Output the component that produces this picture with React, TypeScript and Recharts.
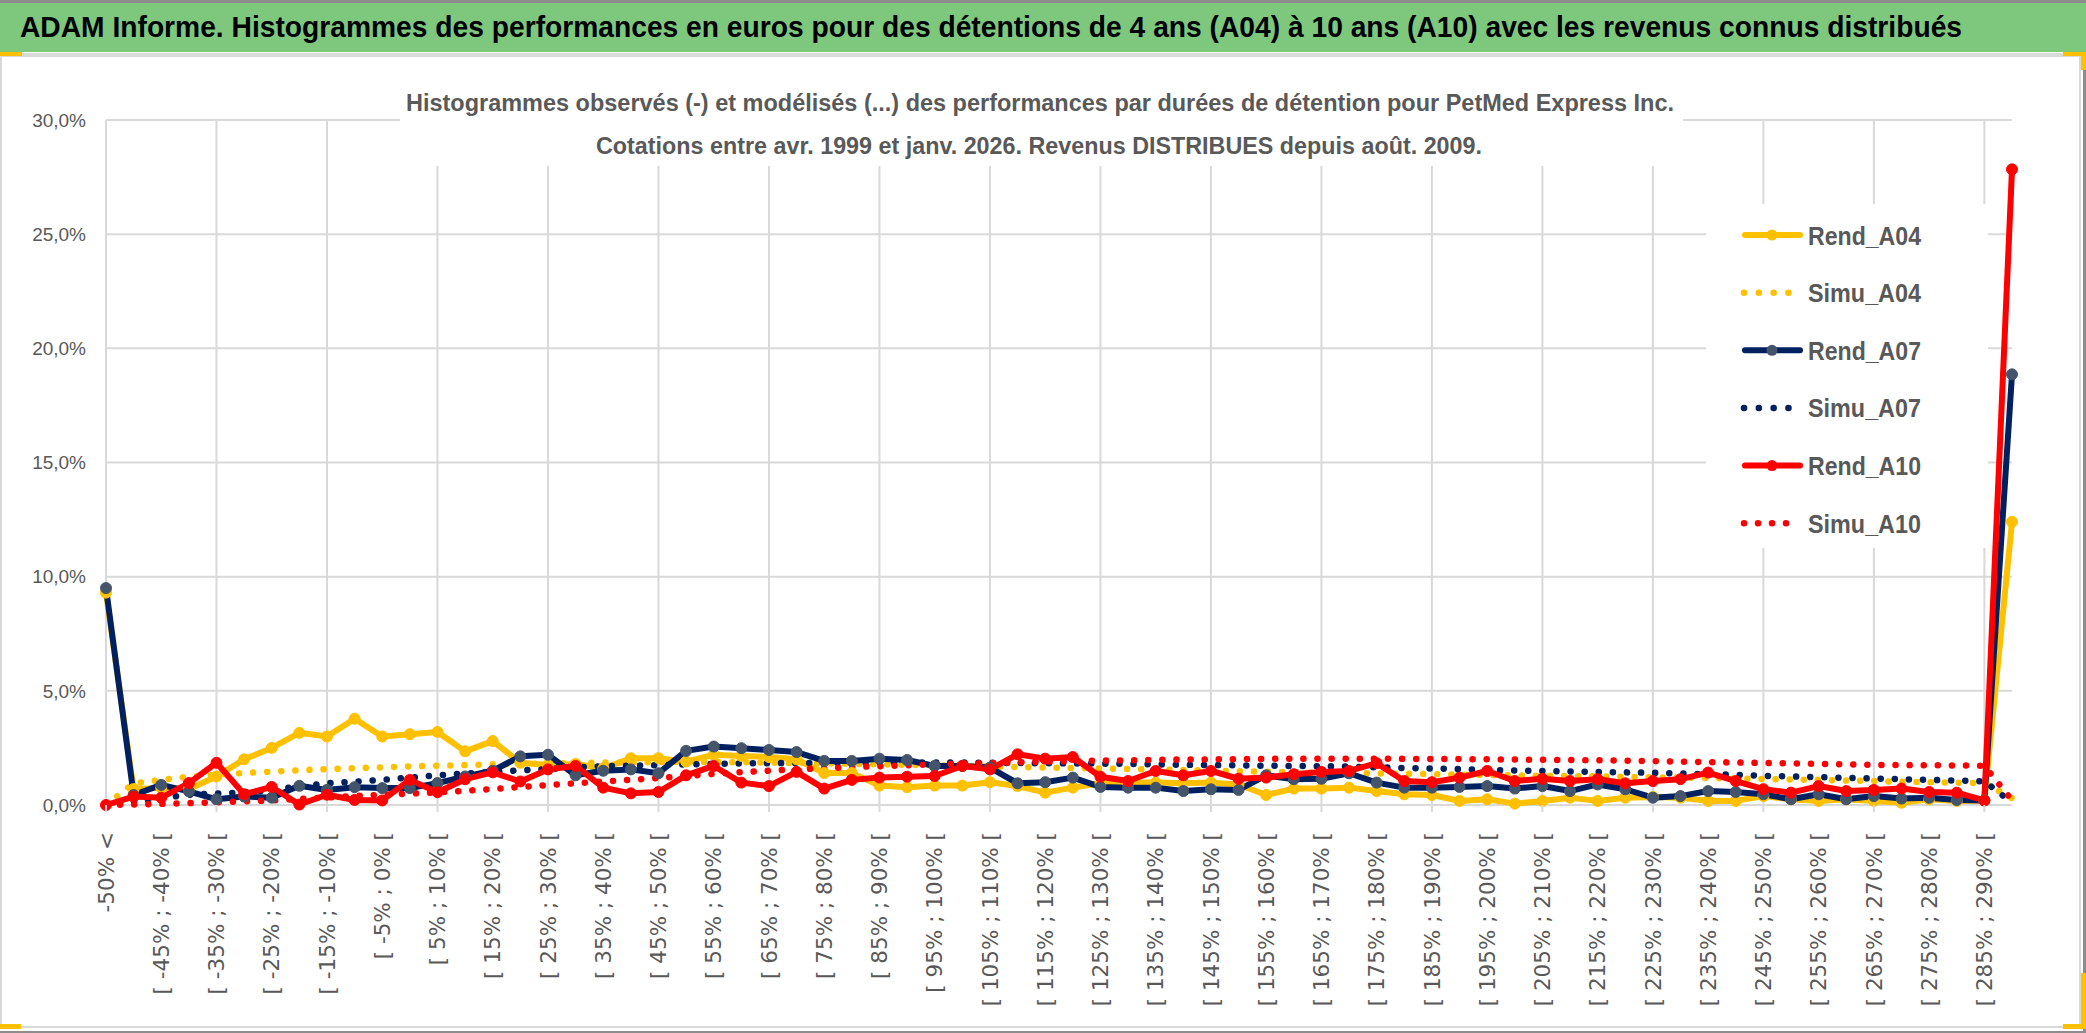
import React from "react";
import { CartesianGrid, Legend, Line, LineChart, ReferenceLine, XAxis, YAxis } from "recharts";

// classes de performance (axe des catégories)
const categories: string[] = [
  "-50% <",
  "[ -50% ; -45% [", "[ -45% ; -40% [", "[ -40% ; -35% [", "[ -35% ; -30% [", "[ -30% ; -25% [",
  "[ -25% ; -20% [", "[ -20% ; -15% [", "[ -15% ; -10% [", "[ -10% ; -5% [", "[ -5% ; 0% [",
  "[ 0% ; 5% [", "[ 5% ; 10% [", "[ 10% ; 15% [", "[ 15% ; 20% [", "[ 20% ; 25% [",
  "[ 25% ; 30% [", "[ 30% ; 35% [", "[ 35% ; 40% [", "[ 40% ; 45% [", "[ 45% ; 50% [",
  "[ 50% ; 55% [", "[ 55% ; 60% [", "[ 60% ; 65% [", "[ 65% ; 70% [", "[ 70% ; 75% [",
  "[ 75% ; 80% [", "[ 80% ; 85% [", "[ 85% ; 90% [", "[ 90% ; 95% [", "[ 95% ; 100% [",
  "[ 100% ; 105% [", "[ 105% ; 110% [", "[ 110% ; 115% [", "[ 115% ; 120% [", "[ 120% ; 125% [",
  "[ 125% ; 130% [", "[ 130% ; 135% [", "[ 135% ; 140% [", "[ 140% ; 145% [", "[ 145% ; 150% [",
  "[ 150% ; 155% [", "[ 155% ; 160% [", "[ 160% ; 165% [", "[ 165% ; 170% [", "[ 170% ; 175% [",
  "[ 175% ; 180% [", "[ 180% ; 185% [", "[ 185% ; 190% [", "[ 190% ; 195% [", "[ 195% ; 200% [",
  "[ 200% ; 205% [", "[ 205% ; 210% [", "[ 210% ; 215% [", "[ 215% ; 220% [", "[ 220% ; 225% [",
  "[ 225% ; 230% [", "[ 230% ; 235% [", "[ 235% ; 240% [", "[ 240% ; 245% [", "[ 245% ; 250% [",
  "[ 250% ; 255% [", "[ 255% ; 260% [", "[ 260% ; 265% [", "[ 265% ; 270% [", "[ 270% ; 275% [",
  "[ 275% ; 280% [", "[ 280% ; 285% [", "[ 285% ; 290% [",
  "> 290%",
];

// fréquences observées (%)
const rendA04 = [
  9.3, 0.7, 0.75, 0.7, 1.25, 2.0, 2.5, 3.16, 3.0, 3.78, 3.0, 3.1, 3.2, 2.35, 2.8, 1.85, 1.75, 1.8, 1.6, 2.05,
  2.05, 1.9, 2.2, 2.15, 2.1, 2.0, 1.4, 1.4, 0.85, 0.78, 0.85, 0.85, 1.0, 0.83, 0.54, 0.76, 0.95, 0.98, 0.98, 0.95,
  0.98, 0.9, 0.44, 0.72, 0.72, 0.76, 0.61, 0.47, 0.44, 0.18, 0.25, 0.06, 0.18, 0.32, 0.18, 0.32, 0.35, 0.32, 0.18, 0.18,
  0.39, 0.25, 0.18, 0.25, 0.18, 0.1, 0.25, 0.18, 0.2, 12.4,
];
const rendA07 = [
  9.5, 0.44, 0.88, 0.6, 0.25, 0.37, 0.32, 0.84, 0.66, 0.78, 0.74, 0.74, 0.96, 1.25, 1.5, 2.13, 2.2, 1.3, 1.5, 1.56,
  1.39, 2.37, 2.56, 2.49, 2.41, 2.32, 1.93, 1.93, 2.03, 1.97, 1.71, 1.71, 1.64, 0.95, 1.0, 1.2, 0.79, 0.76, 0.76, 0.61,
  0.69, 0.66, 1.3, 1.13, 1.15, 1.39, 0.98, 0.76, 0.76, 0.79, 0.83, 0.72, 0.83, 0.61, 0.9, 0.69, 0.32, 0.39, 0.61, 0.57,
  0.47, 0.25, 0.47, 0.25, 0.39, 0.28, 0.32, 0.22, 0.2, 18.86,
];
const rendA10 = [
  0, 0.37, 0.32, 0.96, 1.85, 0.47, 0.79, 0.02, 0.45, 0.22, 0.2, 1.1, 0.56, 1.13, 1.43, 1.03, 1.56, 1.71, 0.76, 0.51,
  0.57, 1.3, 1.71, 0.98, 0.83, 1.45, 0.72, 1.1, 1.2, 1.24, 1.27, 1.71, 1.56, 2.22, 2.03, 2.1, 1.24, 1.05, 1.49, 1.3,
  1.49, 1.15, 1.2, 1.35, 1.45, 1.49, 1.83, 1.05, 1.0, 1.2, 1.49, 1.05, 1.15, 1.05, 1.13, 0.95, 1.05, 1.13, 1.42, 1.05,
  0.69, 0.54, 0.83, 0.61, 0.66, 0.72, 0.57, 0.54, 0.2, 27.84,
];

// fréquences modélisées (%)
const simuA04 = [
  0.0, 0.95, 1.1, 1.24, 1.32, 1.4, 1.46, 1.52, 1.57, 1.61, 1.65, 1.69, 1.72, 1.75, 1.78, 1.8, 1.82, 1.84, 1.86, 1.87,
  1.88, 1.88, 1.88, 1.87, 1.86, 1.84, 1.82, 1.8, 1.78, 1.76, 1.74, 1.71, 1.69, 1.66, 1.64, 1.62, 1.6, 1.58, 1.56, 1.53,
  1.51, 1.48, 1.46, 1.44, 1.42, 1.4, 1.38, 1.37, 1.35, 1.33, 1.31, 1.3, 1.28, 1.27, 1.25, 1.23, 1.21, 1.2, 1.18, 1.16,
  1.14, 1.12, 1.1, 1.07, 1.05, 1.02, 1.0, 0.98, 0.96, 0.3,
];
const simuA07 = [
  0.0, 0.15, 0.3, 0.45, 0.5, 0.55, 0.65, 0.82, 0.95, 1.02, 1.1, 1.2, 1.3, 1.38, 1.45, 1.52, 1.57, 1.65, 1.7, 1.72,
  1.75, 1.78, 1.8, 1.82, 1.83, 1.84, 1.85, 1.85, 1.86, 1.86, 1.86, 1.86, 1.85, 1.84, 1.83, 1.82, 1.81, 1.8, 1.78, 1.76,
  1.75, 1.74, 1.72, 1.71, 1.7, 1.68, 1.65, 1.62, 1.6, 1.57, 1.54, 1.51, 1.49, 1.47, 1.45, 1.43, 1.41, 1.38, 1.35, 1.32,
  1.28, 1.25, 1.22, 1.19, 1.16, 1.13, 1.1, 1.07, 1.04, 0.1,
];
const simuA10 = [
  0.0, 0.02, 0.05, 0.08, 0.12, 0.16, 0.2, 0.27, 0.33, 0.39, 0.45, 0.5, 0.55, 0.62, 0.7, 0.79, 0.87, 0.95, 1.03, 1.1,
  1.18, 1.27, 1.36, 1.44, 1.5, 1.56, 1.61, 1.66, 1.7, 1.74, 1.78, 1.81, 1.84, 1.87, 1.9, 1.92, 1.94, 1.96, 1.98, 1.99,
  2.0, 2.01, 2.02, 2.03, 2.03, 2.03, 2.03, 2.02, 2.02, 2.01, 2.0, 1.99, 1.98, 1.97, 1.96, 1.94, 1.92, 1.9, 1.88, 1.86,
  1.84, 1.82, 1.8, 1.78, 1.76, 1.75, 1.74, 1.73, 1.72, 0.2,
];

const yTicks = [0, 5, 10, 15, 20, 25, 30];

const TITLE =
  "ADAM Informe. Histogrammes des performances en euros pour des détentions de 4 ans (A04) à 10 ans (A10) avec les revenus connus distribués";
const SUBTITLE_1 =
  "Histogrammes observés (-) et modélisés (...) des performances par durées de détention pour PetMed Express Inc.";
const SUBTITLE_2 = "Cotations entre avr. 1999 et janv. 2026. Revenus DISTRIBUES depuis août. 2009.";

const rows = categories.map((cat, i) => ({
  cat,
  rendA04: rendA04[i],
  simuA04: simuA04[i],
  rendA07: rendA07[i],
  simuA07: simuA07[i],
  rendA10: rendA10[i],
  simuA10: simuA10[i],
}));

// quadrillage vertical : une catégorie sur quatre
const gridCats = categories.filter((_, i) => i % 4 === 0);

type Serie = {
  key: string;
  name: string;
  color: string;
  marker?: string;
  dotted: boolean;
  sampleEnd?: number;
  gap?: number;
};

const series: Serie[] = [
  { key: "rendA04", name: "Rend_A04", color: "#FFC000", marker: "#FFC000", dotted: false },
  { key: "simuA04", name: "Simu_A04", color: "#FFC000", dotted: true, sampleEnd: 83, gap: 14.7 },
  { key: "rendA07", name: "Rend_A07", color: "#002060", marker: "#44546A", dotted: false },
  { key: "simuA07", name: "Simu_A07", color: "#002060", dotted: true, sampleEnd: 83, gap: 14.7 },
  { key: "rendA10", name: "Rend_A10", color: "#FF0000", marker: "#FF0000", dotted: false },
  { key: "simuA10", name: "Simu_A10", color: "#FF0000", dotted: true, sampleEnd: 93, gap: 13.9 },
];

const FONT = "'Liberation Sans', Arial, sans-serif";
const GREY_TEXT = "#595959";
const GRID = "#d9d9d9";

const pct = (v: number) => `${v.toFixed(1).replace(".", ",")}%`;

function XTick(props: any) {
  const { x, y, payload } = props;
  const idx = categories.indexOf(payload.value);
  return (
    <g transform={`translate(${x},${y})`}>
      {idx % 4 === 0 && <line x1={0} x2={0} y1={-27} y2={-20} stroke={GRID} strokeWidth={2} />}
      <text
        transform="rotate(-90)"
        x={0}
        y={0}
        dy="0.36em"
        textAnchor="end"
        fill={GREY_TEXT}
        fontSize={21.5}
        fontFamily="'DejaVu Sans', sans-serif"
      >
        {payload.value}
      </text>
    </g>
  );
}

function LegendBox() {
  return (
    <svg width={282} height={344} style={{ display: "block", background: "#fff" }}>
      {series.map((s, i) => {
        const cy = 31 + i * 57.65;
        return (
          <g key={s.key}>
            {s.dotted ? (
              <line
                x1={38}
                x2={s.sampleEnd}
                y1={cy}
                y2={cy}
                stroke={s.color}
                strokeWidth={6.5}
                strokeLinecap="round"
                strokeDasharray={`0.1 ${s.gap}`}
              />
            ) : (
              <>
                <line x1={39} x2={94} y1={cy} y2={cy} stroke={s.color} strokeWidth={6} strokeLinecap="round" />
                <circle cx={66} cy={cy} r={5.5} fill={s.marker} />
              </>
            )}
            <text
              x={102}
              y={cy + 9.5}
              fontSize={26}
              fontWeight="bold"
              fill={GREY_TEXT}
              fontFamily={FONT}
              textLength={113}
              lengthAdjust="spacingAndGlyphs"
            >
              {s.name}
            </text>
          </g>
        );
      })}
    </svg>
  );
}

export default function App() {
  return (
    <div
      style={{
        position: "absolute",
        left: 0,
        top: 0,
        width: 2086,
        height: 1033,
        background: "#fff",
        overflow: "hidden",
        fontFamily: FONT,
      }}
    >
      {/* cadre du graphique */}
      <div
        style={{
          position: "absolute",
          left: 0,
          top: 55,
          width: 2081,
          height: 973,
          boxSizing: "border-box",
          border: `2px solid ${GRID}`,
          borderTop: "none",
        }}
      />
      <div style={{ position: "absolute", left: 0, top: 0 }}>
        <LineChart
          width={2086}
          height={1033}
          data={rows}
          margin={{ top: 120, right: 74, bottom: 13, left: 0 }}
        >
          <CartesianGrid vertical={false} stroke={GRID} strokeWidth={2} syncWithTicks />
          <XAxis
            dataKey="cat"
            interval={1}
            height={215}
            axisLine={false}
            tickLine={false}
            tickSize={8}
            tickMargin={19}
            tick={<XTick />}
          />
          <YAxis
            domain={[0, 30]}
            ticks={yTicks}
            width={106}
            axisLine={false}
            tickLine={false}
            tickSize={12}
            tickMargin={8}
            tickFormatter={pct}
            tick={{ fill: GREY_TEXT, fontSize: 19, fontFamily: FONT }}
          />
          {gridCats.map((c) => (
            <ReferenceLine key={c} x={c} stroke={GRID} strokeWidth={2} />
          ))}
          {series.map((s) =>
            s.dotted ? (
              <Line
                key={s.key}
                dataKey={s.key}
                name={s.name}
                stroke={s.color}
                strokeWidth={6.5}
                strokeLinecap="round"
                strokeDasharray="0.1 14"
                dot={false}
                activeDot={false}
                isAnimationActive={false}
              />
            ) : (
              <Line
                key={s.key}
                dataKey={s.key}
                name={s.name}
                stroke={s.color}
                strokeWidth={6}
                strokeLinejoin="round"
                dot={{ r: 5.5, fill: s.marker, stroke: s.marker, strokeWidth: 1 }}
                activeDot={false}
                isAnimationActive={false}
              />
            )
          )}
          <Legend
            layout="vertical"
            align="center"
            verticalAlign="middle"
            wrapperStyle={{ left: 1706, top: 204, width: 282, height: 344 }}
            content={() => <LegendBox />}
          />
        </LineChart>
      </div>

      {/* bandeau titre, titre du graphique, poignées */}
      <svg
        width={2086}
        height={1033}
        style={{ position: "absolute", left: 0, top: 0, pointerEvents: "none" }}
      >
        <rect x={0} y={0} width={2086} height={3} fill="#8c8c8c" />
        <rect x={0} y={3} width={2086} height={49} fill="#7EC87E" />
        <rect x={0} y={53} width={2086} height={4} fill={GRID} />
        <text
          x={20}
          y={37}
          fontSize={29}
          fontWeight="bold"
          fill="#000"
          fontFamily={FONT}
          textLength={1942}
          lengthAdjust="spacingAndGlyphs"
        >
          {TITLE}
        </text>

        <rect x={400} y={80} width={1283} height={86} fill="#fff" />
        <text
          x={406}
          y={111}
          fontSize={23}
          fontWeight="bold"
          fill={GREY_TEXT}
          fontFamily={FONT}
          textLength={1268}
          lengthAdjust="spacingAndGlyphs"
        >
          {SUBTITLE_1}
        </text>
        <text
          x={596}
          y={154}
          fontSize={23}
          fontWeight="bold"
          fill={GREY_TEXT}
          fontFamily={FONT}
          textLength={886}
          lengthAdjust="spacingAndGlyphs"
        >
          {SUBTITLE_2}
        </text>

        <rect x={2083} y={57} width={3} height={976} fill="#8c8c8c" />
        <rect x={0} y={1031} width={2086} height={2} fill="#8c8c8c" />
        <rect x={0} y={52} width={22} height={4} fill="#FFC000" />
        <rect x={2063} y={52} width={23} height={4} fill="#FFC000" />
        <rect x={2081} y={52} width={5} height={18} fill="#FFC000" />
        <rect x={0} y={1024} width={21} height={5} fill="#FFC000" />
        <rect x={2081} y={973} width={5} height={56} fill="#FFC000" />
        <rect x={2063} y={1024} width={23} height={5} fill="#FFC000" />
      </svg>
    </div>
  );
}
